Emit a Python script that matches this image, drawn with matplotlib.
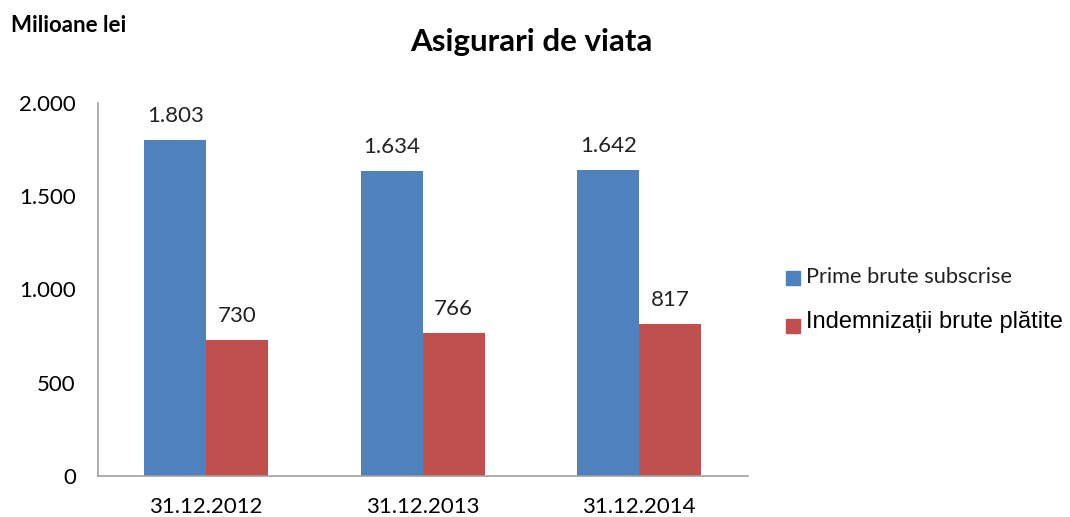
import matplotlib
matplotlib.use("Agg")
import matplotlib.pyplot as plt
import numpy as np

categories = ["31.12.2012", "31.12.2013", "31.12.2014"]
prime = [1803, 1634, 1642]
indemnizatii = [730, 766, 817]
yticks = [0, 500, 1000, 1500, 2000]
ytick_labels = ["0", "500", "1.000", "1.500", "2.000"]

blue = "#4F81BD"
red = "#C0504D"
font = ["Lato", "DejaVu Sans"]

fig = plt.figure(figsize=(10.7, 5.17), dpi=100)
ax = fig.add_axes([0.0916, 0.0793, 0.607, 0.7215])

x = np.arange(len(categories))
w = 0.286
b1 = ax.bar(x - w / 2, prime, w, color=blue)
b2 = ax.bar(x + w / 2, indemnizatii, w, color=red)

for rect, v in zip(list(b1) + list(b2), prime + indemnizatii):
    ax.annotate(f"{v/1000:.3f}" if v >= 1000 else f"{v}",
                (rect.get_x() + rect.get_width() / 2, v),
                xytext=(0, 10), textcoords="offset points",
                ha="center", va="bottom", fontsize=16, family=font, color="#222222")

ax.set_xlim(-0.5, 2.5)
ax.set_ylim(0, 2000)
ax.set_yticks(yticks)
ax.set_yticklabels(ytick_labels, family=font, fontsize=16)
ax.set_xticks(x)
ax.set_xticklabels(categories, family=font, fontsize=16)
ax.tick_params(axis="both", length=0)
ax.tick_params(axis="x", pad=15)
ax.tick_params(axis="y", pad=16)
for s in ["top", "right"]:
    ax.spines[s].set_visible(False)
for s in ["left", "bottom"]:
    ax.spines[s].set_color("#A0A0A0")
    ax.spines[s].set_linewidth(1.2)

fig.text(0.497, 0.918, "Asigurari de viata", ha="center", va="center",
         fontsize=22.5, fontweight="bold", family=font)
fig.text(0.010, 0.950, "Milioane lei", ha="left", va="center",
         fontsize=16, fontweight="bold", family=font)

# legend
fig.patches.append(plt.Rectangle((786 / 1070, 1 - 285 / 517), 14 / 1070, 14 / 517,
                                 color=blue, transform=fig.transFigure, figure=fig))
fig.patches.append(plt.Rectangle((786 / 1070, 1 - 333 / 517), 14 / 1070, 14 / 517,
                                 color=red, transform=fig.transFigure, figure=fig))
fig.text(806 / 1070, 1 - 277 / 517, "Prime brute subscrise", ha="left", va="center",
         fontsize=15.7, family=font, color="#222222")
fig.text(806 / 1070, 1 - 322 / 517, "Indemnizații brute plătite", ha="left", va="center",
         fontsize=17, family=["Liberation Sans", "DejaVu Sans"], color="#000000")

fig.savefig("out.png", dpi=100)
